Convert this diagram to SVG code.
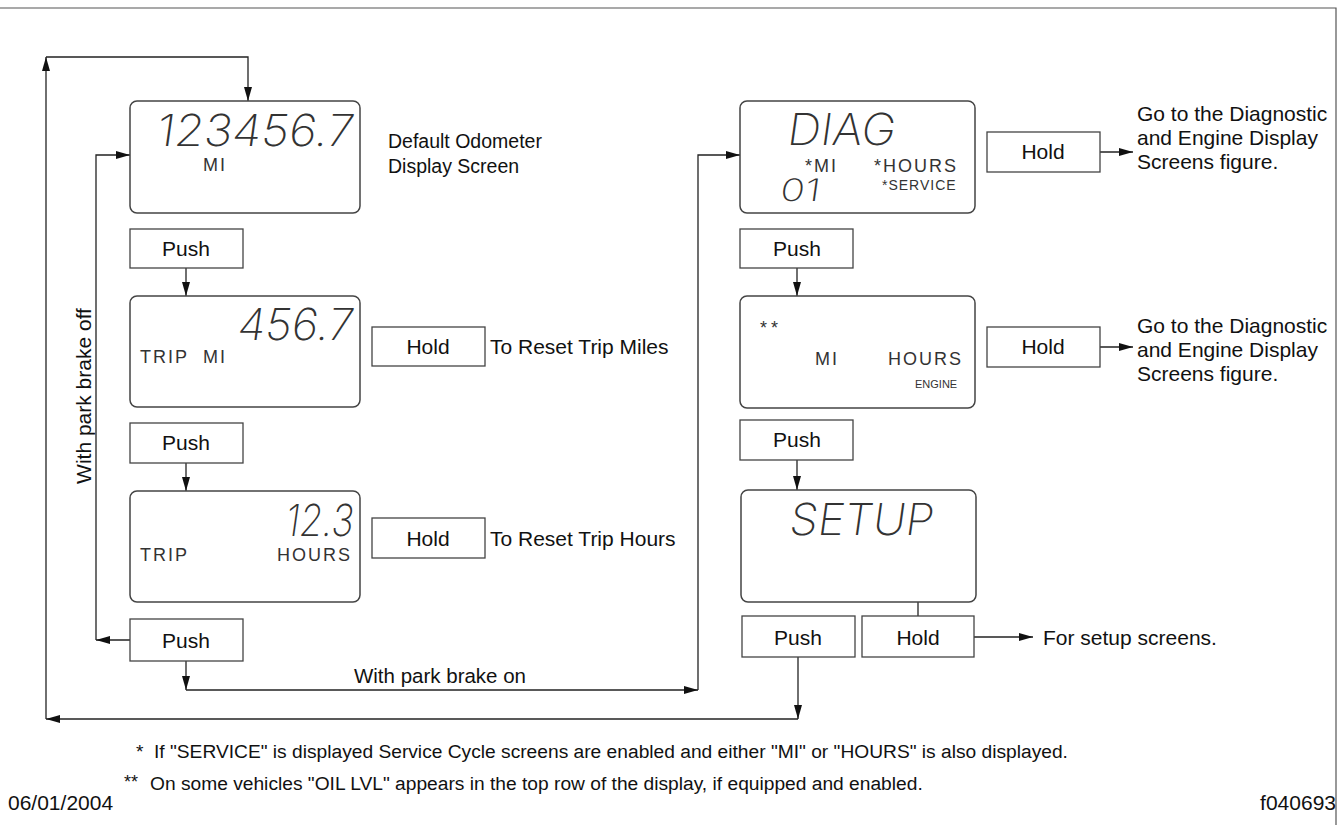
<svg xmlns="http://www.w3.org/2000/svg" width="1344" height="825" viewBox="0 0 1344 825">
<style>
.bg{fill:#fff}
.frame{fill:none;stroke:#555;stroke-width:1.2}
.lcd{fill:#fff;stroke:#444;stroke-width:1.5}
.btn{fill:#fff;stroke:#444;stroke-width:1.3}
.conn{fill:none;stroke:#222;stroke-width:1.3}
.lbl{font-family:"Liberation Sans",Arial,sans-serif;font-size:21px;fill:#111}
.fn{font-family:"Liberation Sans",Arial,sans-serif;font-size:19.2px;fill:#111}
.btxt{font-family:"Liberation Sans",Arial,sans-serif;font-size:21px;fill:#111;text-anchor:middle}
.seg{font-family:Inter,"Liberation Sans",sans-serif;font-weight:200;font-size:44px;fill:#333}
.lt{font-family:"Liberation Sans",Arial,sans-serif;font-size:18px;fill:#333;letter-spacing:2px}
.sm{font-family:"Liberation Sans",Arial,sans-serif;font-size:14px;fill:#333;letter-spacing:1px}
.xs{font-family:"Liberation Sans",Arial,sans-serif;font-size:11px;fill:#333}
</style>
<defs>
<marker id="ah" viewBox="0 0 14 8" refX="14" refY="4" markerWidth="14" markerHeight="8" markerUnits="userSpaceOnUse" orient="auto">
<path d="M0,0 L14,4 L0,8 z" fill="#111"/>
</marker>
</defs>
<rect class="bg" x="0" y="0" width="1344" height="825"/>
<path class="frame" d="M0,8 H1336 V825"/>

<g id="connectors">
<path class="conn" d="M798,657 V719" marker-end="url(#ah)"/>
<path class="conn" d="M798,719 H46" marker-end="url(#ah)"/>
<path class="conn" d="M46,719 V57" marker-end="url(#ah)"/>
<path class="conn" d="M46,57 H248 V101" marker-end="url(#ah)"/>
<path class="conn" d="M130,640 H96" marker-end="url(#ah)"/>
<path class="conn" d="M96,640 V155 H130" marker-end="url(#ah)"/>
<path class="conn" d="M186,661 V690" marker-end="url(#ah)"/>
<path class="conn" d="M186,690 H698" marker-end="url(#ah)"/>
<path class="conn" d="M698,690 V155 H740" marker-end="url(#ah)"/>
<path class="conn" d="M186,268 V296" marker-end="url(#ah)"/>
<path class="conn" d="M186,463 V491" marker-end="url(#ah)"/>
<path class="conn" d="M797,268 V296" marker-end="url(#ah)"/>
<path class="conn" d="M797,460 V490" marker-end="url(#ah)"/>
<path class="conn" d="M1100,152 H1133" marker-end="url(#ah)"/>
<path class="conn" d="M1100,347 H1133" marker-end="url(#ah)"/>
<path class="conn" d="M974,637 H1033" marker-end="url(#ah)"/>
<path class="conn" d="M918,602 V616"/>
<text class="lbl" x="440" y="683" text-anchor="middle" style="font-size:20.5px">With park brake on</text>
<text class="lbl" transform="translate(91,396) rotate(-90)" text-anchor="middle">With park brake off</text>
</g>

<g id="odometer">
<rect class="lcd" x="130" y="101" width="230" height="112" rx="7"/>
<text class="seg" transform="translate(155,146) skewX(-8)" x="0" y="0" textLength="197" lengthAdjust="spacingAndGlyphs">123456.7</text>
<text class="lt" x="203" y="171">MI</text>
<text class="lbl" x="388" y="148" style="font-size:19.5px">Default Odometer</text>
<text class="lbl" x="388" y="173" style="font-size:19.5px">Display Screen</text>
</g>

<g id="push1"><rect class="btn" x="130" y="229" width="113" height="39"/><text class="btxt" x="186" y="256">Push</text></g>

<g id="tripmi">
<rect class="lcd" x="130" y="296" width="230" height="111" rx="7"/>
<text class="seg" transform="translate(236,340) skewX(-8)" x="0" y="0" textLength="116" lengthAdjust="spacingAndGlyphs">456.7</text>
<text class="lt" x="140" y="363">TRIP<tspan x="203">MI</tspan></text>
</g>

<g id="hold1"><rect class="btn" x="372" y="327" width="113" height="39"/><text class="btxt" x="428" y="354">Hold</text><text class="lbl" x="490" y="354">To Reset Trip Miles</text></g>

<g id="push2"><rect class="btn" x="130" y="423" width="113" height="40"/><text class="btxt" x="186" y="450">Push</text></g>

<g id="triphours">
<rect class="lcd" x="130" y="491" width="230" height="111" rx="7"/>
<text class="seg" transform="translate(284,536) skewX(-8)" x="0" y="0" textLength="68" lengthAdjust="spacingAndGlyphs">12.3</text>
<text class="lt" x="140" y="561">TRIP</text>
<text class="lt" x="352" y="561" text-anchor="end">HOURS</text>
</g>

<g id="hold2"><rect class="btn" x="372" y="518" width="113" height="40"/><text class="btxt" x="428" y="546">Hold</text><text class="lbl" x="490" y="546">To Reset Trip Hours</text></g>

<g id="push3"><rect class="btn" x="130" y="619" width="113" height="42"/><text class="btxt" x="186" y="648">Push</text></g>

<g id="diag">
<rect class="lcd" x="740" y="101" width="235" height="112" rx="7"/>
<text class="seg" transform="translate(786,145) skewX(-8)" x="0" y="0" textLength="108" lengthAdjust="spacingAndGlyphs">DIAG</text>
<text class="lt" x="805" y="172">*MI</text>
<text class="lt" x="874" y="172">*HOURS</text>
<text class="sm" x="882" y="190">*SERVICE</text>
<text class="seg" transform="translate(779,201) skewX(-8)" x="0" y="0" style="font-size:31px" textLength="40" lengthAdjust="spacingAndGlyphs">01</text>
</g>

<g id="hold3"><rect class="btn" x="987" y="132" width="113" height="40"/><text class="btxt" x="1043" y="159">Hold</text>
<text class="lbl" x="1137" y="121">Go to the Diagnostic</text>
<text class="lbl" x="1137" y="145">and Engine Display</text>
<text class="lbl" x="1137" y="169">Screens figure.</text></g>

<g id="push4"><rect class="btn" x="740" y="229" width="113" height="39"/><text class="btxt" x="797" y="256">Push</text></g>

<g id="engine">
<rect class="lcd" x="740" y="296" width="235" height="112" rx="7"/>
<text class="lt" x="760" y="334" style="letter-spacing:4px">**</text>
<text class="lt" x="815" y="365">MI</text>
<text class="lt" x="888" y="365">HOURS</text>
<text class="xs" x="915" y="388">ENGINE</text>
</g>

<g id="hold4"><rect class="btn" x="987" y="327" width="113" height="40"/><text class="btxt" x="1043" y="354">Hold</text>
<text class="lbl" x="1137" y="333">Go to the Diagnostic</text>
<text class="lbl" x="1137" y="357">and Engine Display</text>
<text class="lbl" x="1137" y="381">Screens figure.</text></g>

<g id="push5"><rect class="btn" x="740" y="420" width="113" height="40"/><text class="btxt" x="797" y="447">Push</text></g>

<g id="setup">
<rect class="lcd" x="741" y="490" width="235" height="112" rx="7"/>
<text class="seg" transform="translate(788,535) skewX(-8)" x="0" y="0" textLength="144" lengthAdjust="spacingAndGlyphs">SETUP</text>
</g>

<g id="push6"><rect class="btn" x="742" y="616" width="113" height="41"/><text class="btxt" x="798" y="645">Push</text></g>

<g id="hold5"><rect class="btn" x="862" y="616" width="112" height="41"/><text class="btxt" x="918" y="645">Hold</text>
<text class="lbl" x="1043" y="645">For setup screens.</text></g>

<g id="notes">
<text class="fn" x="136" y="758">*</text>
<text class="fn" x="154" y="758">If "SERVICE" is displayed Service Cycle screens are enabled and either "MI" or "HOURS" is also displayed.</text>
<text class="fn" x="124" y="788" style="font-size:18px">**</text>
<text class="fn" x="150" y="790">On some vehicles "OIL LVL" appears in the top row of the display, if equipped and enabled.</text>
<text class="lbl" x="8" y="810">06/01/2004</text>
<text class="lbl" x="1336" y="810" text-anchor="end">f040693</text>
</g>
</svg>
